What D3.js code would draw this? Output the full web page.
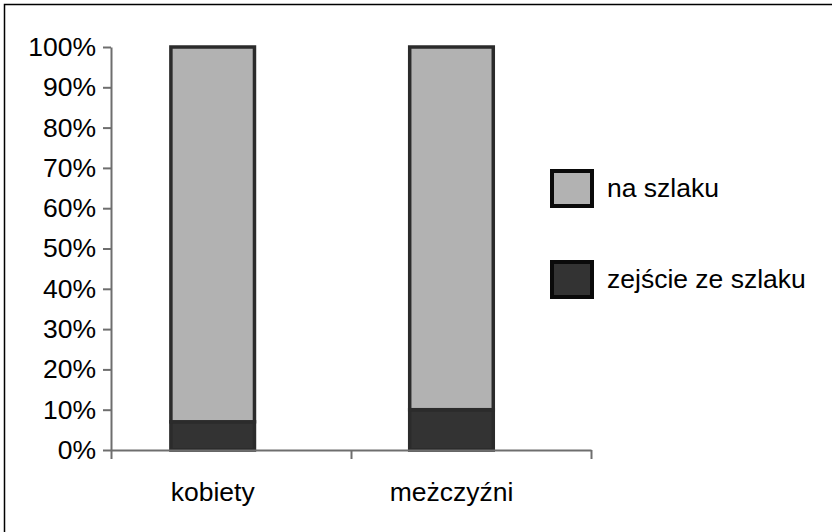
<!DOCTYPE html>
<html>
<head>
<meta charset="utf-8">
<script src="https://cdn.jsdelivr.net/npm/d3@7"></script>
<style>
  html, body { margin: 0; padding: 0; background: #fff; }
  svg { display: block; font-family: "Liberation Sans", Arial, sans-serif; }
</style>
</head>
<body>
<svg id="chart" width="832" height="532"></svg>
<script>
// Share of participants who stayed on the trail vs. left it, by gender (%)
const categories = ["kobiety", "meżczyźni"];
const seriesNames = ["zejście ze szlaku", "na szlaku"];
const offTrail = [7, 10];
const onTrail = [93, 90];
const yTicks = [0, 10, 20, 30, 40, 50, 60, 70, 80, 90, 100];
const legendItems = ["na szlaku", "zejście ze szlaku"];

const colors = { "na szlaku": "#b2b2b2", "zejście ze szlaku": "#333333" };
const barStroke = "#2b2b2b";
const axisColor = "#6e6e6e";
const fontSize = 26.5;

const svg = d3.select("#chart");

// frame (runs past the right and bottom edges of the canvas)
svg.append("rect")
  .attr("x", 4.5).attr("y", 4.5)
  .attr("width", 900).attr("height", 600)
  .attr("fill", "#fff").attr("stroke", "#000").attr("stroke-width", 1.5);

const plot = { left: 111, right: 591, top: 47, bottom: 450 };

const x = d3.scaleBand()
  .domain(categories)
  .range([plot.left, plot.right])
  .paddingInner(0.65)
  .paddingOuter(0.33)
  .align(0.38);

const y = d3.scaleLinear().domain([0, 100]).range([plot.bottom, plot.top]);

const rows = categories.map((c, i) => ({
  category: c,
  "zejście ze szlaku": offTrail[i],
  "na szlaku": onTrail[i]
}));

const stacked = d3.stack().keys(seriesNames)(rows);

svg.append("g")
  .selectAll("g")
  .data(stacked)
  .join("g")
  .attr("fill", d => colors[d.key])
  .selectAll("rect")
  .data(d => d)
  .join("rect")
  .attr("x", d => x(d.data.category))
  .attr("width", x.bandwidth())
  .attr("y", d => y(d[1]))
  .attr("height", d => y(d[0]) - y(d[1]))
  .attr("stroke", barStroke)
  .attr("stroke-width", 3.5);

// y axis
const yAxis = svg.append("g")
  .attr("transform", `translate(${plot.left},0)`)
  .call(d3.axisLeft(y).tickValues(yTicks).tickFormat(d => d + "%")
    .tickSize(8).tickSizeOuter(0).tickPadding(7));
yAxis.select(".domain").attr("stroke", axisColor).attr("stroke-width", 2);
yAxis.selectAll(".tick line").attr("stroke", axisColor).attr("stroke-width", 2);
yAxis.selectAll("text").attr("font-size", fontSize).attr("fill", "#000")
  .attr("font-family", "Liberation Sans, Arial, sans-serif");

// x axis with ticks at category boundaries
const xBounds = d3.scaleLinear().domain([0, categories.length]).range([plot.left, plot.right]);
const xAxis = svg.append("g")
  .attr("transform", `translate(0,${plot.bottom})`)
  .call(d3.axisBottom(xBounds).tickValues(d3.range(categories.length + 1))
    .tickFormat("").tickSize(9).tickSizeOuter(0));
xAxis.select(".domain").attr("stroke", axisColor).attr("stroke-width", 2);
xAxis.selectAll(".tick line").attr("stroke", axisColor).attr("stroke-width", 2);

// category labels, centred under each bar
svg.append("g")
  .selectAll("text")
  .data(categories)
  .join("text")
  .attr("x", d => x(d) + x.bandwidth() / 2)
  .attr("y", 501)
  .attr("text-anchor", "middle")
  .attr("font-size", fontSize)
  .attr("fill", "#000")
  .text(d => d);

// legend
const legend = svg.append("g")
  .selectAll("g")
  .data(legendItems)
  .join("g")
  .attr("transform", (d, i) => `translate(552,${171 + i * 91})`);

legend.append("rect")
  .attr("width", 40).attr("height", 35)
  .attr("fill", d => colors[d])
  .attr("stroke", "#0a0a0a").attr("stroke-width", 4);

legend.append("text")
  .attr("x", 55).attr("y", 26)
  .attr("font-size", fontSize)
  .attr("fill", "#000")
  .text(d => d);
</script>
</body>
</html>
